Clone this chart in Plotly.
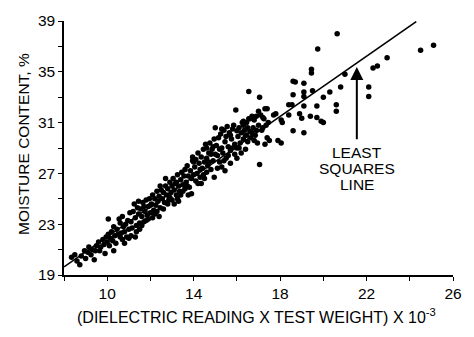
import plotly.graph_objects as go

# Scatter data (dielectric reading x test weight x 1e-3, moisture %)
x_vals = [
    8.35, 8.5, 8.6, 8.73, 8.8, 8.95, 9.0,
    9.1, 9.15, 9.25, 9.3, 9.4, 9.45, 9.5,
    9.6, 9.65, 9.7, 9.8, 9.85, 9.9, 9.95, 10.0,
    10.05, 10.05, 10.1, 10.15, 10.2, 10.25, 10.3, 10.3, 10.35, 10.4, 10.45, 10.5,
    10.55, 10.6, 10.65, 10.7, 10.7, 10.75, 10.8, 10.85, 10.9, 10.95, 11.0, 11.0,
    11.05, 11.1, 11.15, 11.2, 11.25, 11.3, 11.35, 11.4, 11.45, 11.5, 11.45, 11.35,
    11.55, 11.6, 11.65, 11.7, 11.75, 11.8, 11.85, 11.9, 11.95, 12.0, 11.6, 11.9,
    12.05, 12.1, 12.15, 12.2, 12.25, 12.3, 12.35, 12.4, 12.45, 12.5, 12.2, 12.45,
    12.55, 12.6, 12.65, 12.7, 12.75, 12.8, 12.85, 12.9, 12.95, 13.0, 12.7, 13.0,
    13.05, 13.1, 13.15, 13.2, 13.25, 13.3, 13.35, 13.4, 13.45, 13.5, 13.25, 13.5,
    13.55, 13.6, 13.65, 13.7, 13.75, 13.8, 13.85, 13.9, 13.95, 13.95, 14.0, 13.7,
    14.05, 14.1, 14.15, 14.2, 14.25, 14.3, 14.35, 14.4, 14.45, 14.5, 14.2, 14.45,
    14.55, 14.6, 14.6, 14.65, 14.7, 14.75, 14.8, 14.85, 14.9, 14.95, 15.0, 14.95, 15.0,
    15.05, 15.1, 15.15, 15.2, 15.25, 15.3, 15.35, 15.4, 15.45, 15.5, 15.55, 15.3, 15.5,
    15.6, 15.65, 15.7, 15.75, 15.8, 15.85, 15.9, 15.95, 16.0, 16.0, 15.7, 15.9,
    16.05, 16.1, 16.15, 16.2, 16.25, 16.3, 16.3, 16.35, 16.4, 16.45, 16.45, 16.5,
    16.55, 16.55, 16.6, 16.65, 16.7, 16.75, 16.8, 16.85, 16.9, 16.95, 17.0, 17.05, 17.05,
    17.1, 17.15, 17.2, 17.25, 17.3, 17.35, 17.4, 17.45, 17.5,
    17.7, 17.8, 17.9, 18.05, 18.05, 18.1, 18.4, 18.4, 18.55, 18.6, 18.6, 18.7, 18.6,
    18.9, 19.0, 19.1, 19.1, 19.1, 19.1, 19.1, 19.4, 19.45, 19.45, 19.5, 19.7, 19.7, 19.74, 19.9, 20.0, 20.0,
    20.3, 20.6, 20.6, 20.64, 20.8, 21.0, 22.1, 22.1, 22.3, 22.5, 22.95, 24.5, 25.1,
    10.6, 10.8, 11.1, 11.3, 11.5, 11.7, 11.8, 12.0, 12.1, 12.3, 12.4, 12.6, 12.8,
    12.9, 13.1, 13.2, 13.3, 13.4, 13.6, 13.75, 13.9, 14.0, 14.1, 14.3, 14.35, 14.5,
    14.6, 14.7, 14.8, 14.9, 15.1, 15.2, 15.3, 15.4, 15.45, 15.6, 15.7, 15.8, 16.0,
    16.1, 16.2, 16.3, 16.4, 16.5, 16.6, 16.7, 16.8, 16.9, 17.0, 17.2, 17.3, 17.4,
]
y_vals = [
    20.4, 20.6, 20.1, 19.8, 20.5, 20.9, 20.3,
    20.8, 21.2, 20.6, 21.0, 20.2, 20.9, 21.3,
    21.6, 20.9, 21.2, 21.8, 21.4, 20.7, 22.0, 21.6,
    23.4, 22.2, 21.3, 21.9, 22.4, 21.7, 20.9, 22.8, 22.1, 21.5, 22.6, 22.2,
    23.4, 23.1, 22.3, 23.6, 21.8, 22.8, 22.4, 23.0, 22.0, 23.3, 22.6, 21.9,
    23.9, 23.2, 22.7, 24.0, 24.6, 23.5, 22.9, 24.3, 23.8, 23.1, 24.8, 22.4,
    24.2, 23.6, 24.7, 23.2, 24.0, 24.9, 23.7, 24.4, 25.0, 23.9, 22.9, 23.4,
    24.6, 25.3, 24.1, 25.0, 24.5, 25.6, 24.8, 25.2, 24.3, 25.7, 23.8, 26.0,
    25.0, 25.5, 24.7, 26.0, 25.3, 25.8, 24.9, 26.3, 25.5, 26.0, 26.6, 24.9,
    26.6, 25.7, 26.2, 25.3, 26.9, 26.0, 25.6, 26.5, 27.1, 26.1, 25.0, 25.6,
    26.8, 27.3, 26.3, 27.6, 26.8, 25.9, 27.2, 25.4, 28.3, 28.0, 26.9, 26.0,
    27.5, 28.1, 27.0, 28.6, 27.8, 26.7, 28.3, 27.4, 28.9, 27.9, 26.2, 26.9,
    29.3, 29.0, 28.2, 27.6, 28.6, 29.4, 27.3, 28.9, 28.0, 29.7, 30.6, 26.7, 28.5,
    29.2, 28.4, 29.8, 27.9, 30.1, 29.0, 28.6, 30.4, 29.5, 28.2, 30.7, 27.5, 29.9,
    29.1, 30.2, 28.8, 29.7, 30.5, 30.8, 29.3, 32.0, 30.35, 29.0, 27.8, 28.5,
    29.9, 30.6, 29.4, 30.2, 31.0, 31.1, 29.7, 30.4, 28.9, 31.0, 30.0, 29.5,
    33.45, 31.3, 30.3, 29.8, 31.5, 30.6, 31.2, 30.0, 31.5, 29.4, 30.8, 27.7, 33.0,
    31.6, 30.4, 30.6, 31.3, 32.1, 30.8, 32.1, 31.0, 29.6,
    31.6, 31.7, 29.6, 29.4, 31.2, 31.0, 31.6, 32.4, 32.4, 33.2, 30.35, 34.2, 34.25,
    31.7, 31.35, 34.1, 33.4, 33.05, 32.3, 30.2, 31.5, 34.9, 35.2, 33.5, 31.4, 32.3, 36.8, 31.1, 33.0, 31.0,
    33.4, 32.4, 31.9, 38.0, 33.8, 34.8, 33.8, 33.05, 35.3, 35.45, 36.1, 36.7, 37.1,
    22.0, 21.5, 22.1, 22.0, 22.6, 24.4, 23.3, 24.5, 23.5, 24.0, 23.6, 24.2, 24.6,
    25.1, 24.6, 26.3, 24.8, 25.3, 25.8, 25.3, 26.6, 27.9, 26.4, 27.3, 26.2, 26.6,
    27.1, 27.9, 28.5, 29.1, 27.4, 28.9, 30.5, 28.0, 27.2, 28.4, 30.0, 29.0, 28.2,
    29.0, 28.6, 30.8, 30.0, 30.6, 31.3, 30.2, 29.6, 30.4, 31.9, 31.4, 29.3, 29.8,
]

# Least squares line end points
line_x = [8.0, 24.3]
line_y = [19.64, 38.95]

x_tickvals = [8, 10, 12, 14, 16, 18, 20, 22, 24, 26]
x_ticktext = ["", "10", "", "14", "", "18", "", "22", "", "26"]
y_tickvals = [19, 21, 23, 25, 27, 29, 31, 33, 35, 37, 39]
y_ticktext = ["19", "", "23", "", "27", "", "31", "", "35", "", "39"]

callout_lines = ["LEAST", "SQUARES", "LINE"]
callout_y = [28.65, 27.38, 26.10]

FONT = "Liberation Sans, Arial, Helvetica, sans-serif"

fig = go.Figure()
fig.add_trace(go.Scatter(x=x_vals, y=y_vals, mode="markers",
                         marker=dict(color="black", size=5.5, line=dict(width=0)),
                         showlegend=False, hoverinfo="skip"))
fig.add_trace(go.Scatter(x=line_x, y=line_y, mode="lines",
                         line=dict(color="black", width=1.6),
                         showlegend=False, hoverinfo="skip"))

fig.update_layout(
    width=474, height=337,
    margin=dict(l=64, r=14, t=16, b=62),
    paper_bgcolor="white", plot_bgcolor="white",
    font=dict(family=FONT, color="black", size=15),
    xaxis=dict(range=[8, 26], tickvals=x_tickvals, ticktext=x_ticktext,
               ticks="outside", ticklen=4, tickwidth=1.3, tickcolor="black",
               showline=True, linecolor="black", linewidth=1.5,
               showgrid=False, zeroline=False, tickfont=dict(size=15.5)),
    yaxis=dict(range=[19, 39], tickvals=y_tickvals, ticktext=y_ticktext,
               ticks="outside", ticklen=4, tickwidth=1.3, tickcolor="black",
               showline=True, linecolor="black", linewidth=1.5,
               showgrid=False, zeroline=False, tickfont=dict(size=15.5)),
)

fig.add_annotation(xref="paper", yref="paper", x=-0.106, y=0.515,
                   text="MOISTURE CONTENT, %", textangle=-90, showarrow=False,
                   xanchor="center", yanchor="middle", font=dict(size=15.5))
fig.add_annotation(xref="paper", yref="paper", x=0.494, y=-0.162,
                   text="(DIELECTRIC READING X TEST WEIGHT) X 10<sup>-3</sup>",
                   showarrow=False, xanchor="center", yanchor="middle",
                   font=dict(size=16))
fig.add_annotation(x=21.55, y=35.37, ax=21.55, ay=29.58, xref="x", yref="y",
                   axref="x", ayref="y", text="", showarrow=True,
                   arrowhead=2, arrowsize=1.3, arrowwidth=2, arrowcolor="black")
for label, yy in zip(callout_lines, callout_y):
    fig.add_annotation(x=21.55, y=yy, xref="x", yref="y", text=label,
                       showarrow=False, xanchor="center", yanchor="middle",
                       font=dict(size=15.5))
fig.add_annotation(x=14.7, y=17.65, xref="x", yref="y", text="-",
                   showarrow=False, font=dict(size=11))

fig.write_html("out.html")
